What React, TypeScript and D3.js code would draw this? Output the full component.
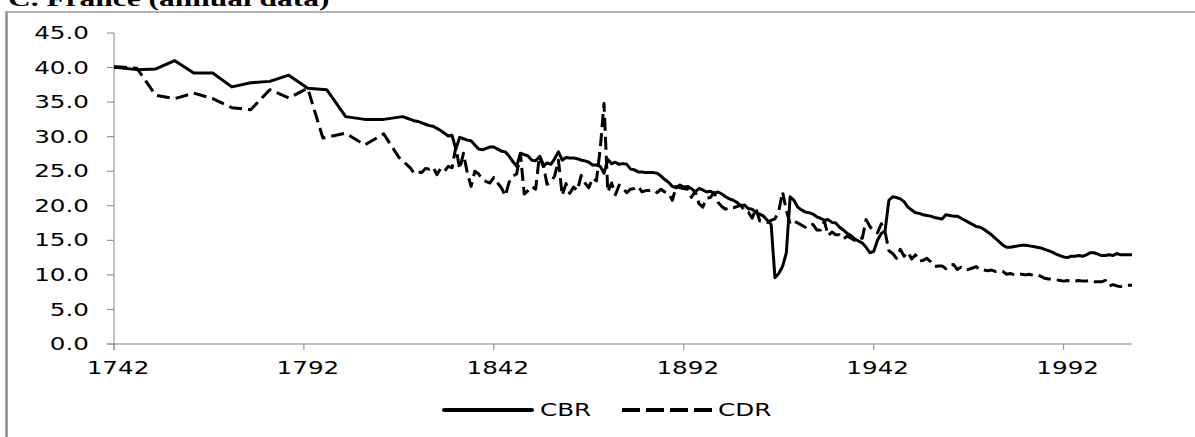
import * as d3 from "d3";

// crude birth rate, France (per 1000)
const cbrData: [number, number][] = [
  [1742, 40.0], [1743, 40.0], [1748, 39.7], [1753, 39.8], [1758, 41.0], [1763, 39.2], [1768, 39.2],
  [1773, 37.2], [1778, 37.8], [1783, 38.0], [1788, 38.9], [1793, 37.0], [1798, 36.8], [1803, 32.9],
  [1808, 32.5], [1813, 32.5], [1818, 32.9],
  [1819, 32.7], [1820, 32.5], [1821, 32.3], [1822, 32.2], [1823, 32.0], [1824, 31.8], [1825, 31.6],
  [1826, 31.5], [1827, 31.2], [1828, 30.9], [1829, 30.5], [1830, 30.1], [1831, 30.2], [1832, 28.2],
  [1833, 29.9], [1834, 29.7], [1835, 29.5], [1836, 29.4], [1837, 28.8], [1838, 28.2], [1839, 28.1],
  [1840, 28.3], [1841, 28.5], [1842, 28.5], [1843, 28.2], [1844, 27.9], [1845, 27.8], [1846, 27.2],
  [1847, 26.4], [1848, 25.7], [1849, 27.6], [1850, 27.4], [1851, 27.2], [1852, 26.6], [1853, 26.5],
  [1854, 27.1], [1855, 25.7], [1856, 26.2], [1857, 26.0], [1858, 26.8], [1859, 27.8], [1860, 26.6],
  [1861, 27.0], [1862, 26.9], [1863, 26.9], [1864, 26.8], [1865, 26.6], [1866, 26.5], [1867, 26.3],
  [1868, 25.9], [1869, 25.9], [1870, 25.7], [1871, 24.7], [1872, 26.7], [1873, 26.1], [1874, 26.3],
  [1875, 26.0], [1876, 26.1], [1877, 26.0], [1878, 25.3], [1879, 25.2], [1880, 24.9], [1881, 24.9],
  [1882, 24.8], [1883, 24.8], [1884, 24.8], [1885, 24.7], [1886, 24.3], [1887, 23.8], [1888, 23.4],
  [1889, 22.8], [1890, 22.6], [1891, 23.0], [1892, 22.7], [1893, 22.8], [1894, 22.5], [1895, 22.0],
  [1896, 22.5], [1897, 22.3], [1898, 22.0], [1899, 22.1], [1900, 21.8], [1901, 22.0], [1902, 21.7],
  [1903, 21.3], [1904, 21.0], [1905, 20.8], [1906, 20.5], [1907, 20.0], [1908, 20.1], [1909, 19.6],
  [1910, 19.5], [1911, 19.0], [1912, 18.8], [1913, 18.5], [1914, 17.9], [1915, 17.3], [1916, 9.6],
  [1917, 10.2], [1918, 11.2], [1919, 13.2], [1920, 21.3], [1921, 20.8], [1922, 19.8], [1923, 19.4],
  [1924, 19.1], [1925, 19.0], [1926, 18.8], [1927, 18.4], [1928, 18.2], [1929, 17.9], [1930, 18.0],
  [1931, 17.6], [1932, 17.5], [1933, 16.9], [1934, 16.5], [1935, 16.0], [1936, 15.7], [1937, 15.2],
  [1938, 14.9], [1939, 14.6], [1940, 14.0], [1941, 13.2], [1942, 13.4], [1943, 15.0], [1944, 16.0],
  [1945, 16.4], [1946, 20.8], [1947, 21.3], [1948, 21.2], [1949, 21.0], [1950, 20.6], [1951, 19.8],
  [1952, 19.4], [1953, 19.0], [1954, 18.9], [1955, 18.7], [1956, 18.6], [1957, 18.5], [1958, 18.3],
  [1959, 18.2], [1960, 18.1], [1961, 18.7], [1962, 18.6], [1963, 18.5], [1964, 18.5], [1965, 18.2],
  [1966, 17.9], [1967, 17.6], [1968, 17.3], [1969, 17.0], [1970, 16.9], [1971, 16.6], [1972, 16.2],
  [1973, 15.8], [1974, 15.3], [1975, 14.8], [1976, 14.3], [1977, 14.0], [1978, 14.0], [1979, 14.1],
  [1980, 14.2], [1981, 14.3], [1982, 14.3], [1983, 14.2], [1984, 14.1], [1985, 14.0], [1986, 13.9],
  [1987, 13.7], [1988, 13.5], [1989, 13.3], [1990, 13.0], [1991, 12.8], [1992, 12.6], [1993, 12.5],
  [1994, 12.7], [1995, 12.7], [1996, 12.8], [1997, 12.7], [1998, 12.9], [1999, 13.2], [2000, 13.2],
  [2001, 13.0], [2002, 12.8], [2003, 12.8], [2004, 12.9], [2005, 12.8], [2006, 13.1], [2007, 12.9],
  [2008, 12.9], [2009, 12.9], [2010, 12.9],
];

// crude death rate, France (per 1000)
const cdrData: [number, number][] = [
  [1742, 40.1], [1743, 40.1], [1748, 39.9], [1753, 36.0], [1758, 35.5], [1763, 36.3], [1768, 35.5],
  [1773, 34.2], [1778, 33.9], [1783, 36.8], [1788, 35.6], [1793, 37.0], [1797, 29.8], [1803, 30.5],
  [1808, 28.8], [1813, 30.4], [1817, 27.0],
  [1819, 26.0], [1820, 25.5], [1821, 24.7], [1822, 24.9], [1823, 24.8], [1824, 25.4], [1825, 25.3],
  [1826, 25.6], [1827, 24.5], [1828, 25.4], [1829, 25.0], [1830, 25.7], [1831, 25.5], [1832, 28.5],
  [1833, 25.3], [1834, 27.6], [1835, 24.8], [1836, 22.8], [1837, 25.0], [1838, 24.6], [1839, 23.8],
  [1840, 23.5], [1841, 23.3], [1842, 24.1], [1843, 23.3], [1844, 22.6], [1845, 21.4], [1846, 23.4],
  [1847, 24.3], [1848, 24.6], [1849, 27.5], [1850, 21.7], [1851, 22.2], [1852, 22.8], [1853, 22.4],
  [1854, 27.3], [1855, 26.0], [1856, 23.1], [1857, 23.4], [1858, 24.3], [1859, 26.6], [1860, 21.5],
  [1861, 23.2], [1862, 21.8], [1863, 22.7], [1864, 22.2], [1865, 24.4], [1866, 23.3], [1867, 22.6],
  [1868, 24.0], [1869, 23.6], [1870, 28.2], [1871, 34.8], [1872, 22.0], [1873, 23.3], [1874, 21.6],
  [1875, 23.0], [1876, 22.5], [1877, 21.9], [1878, 22.4], [1879, 22.5], [1880, 22.8], [1881, 22.0],
  [1882, 22.2], [1883, 22.2], [1884, 22.3], [1885, 21.9], [1886, 22.4], [1887, 22.0], [1888, 21.8],
  [1889, 20.8], [1890, 22.8], [1891, 22.6], [1892, 22.5], [1893, 22.4], [1894, 21.2], [1895, 22.1],
  [1896, 20.3], [1897, 19.8], [1898, 21.1], [1899, 21.2], [1900, 21.9], [1901, 20.5], [1902, 19.9],
  [1903, 19.5], [1904, 19.8], [1905, 19.7], [1906, 19.9], [1907, 20.1], [1908, 19.2], [1909, 19.1],
  [1910, 18.2], [1911, 19.6], [1912, 17.8], [1913, 17.8], [1914, 17.6], [1915, 17.9], [1916, 18.1],
  [1917, 19.2], [1918, 22.0], [1919, 19.3], [1920, 17.4], [1921, 17.8], [1922, 17.5], [1923, 17.2],
  [1924, 16.9], [1925, 17.4], [1926, 17.3], [1927, 16.5], [1928, 16.5], [1929, 17.8], [1930, 15.7],
  [1931, 16.2], [1932, 15.8], [1933, 15.8], [1934, 15.2], [1935, 15.6], [1936, 15.3], [1937, 15.0],
  [1938, 15.4], [1939, 15.3], [1940, 18.0], [1941, 17.0], [1942, 16.3], [1943, 16.1], [1944, 17.4],
  [1945, 16.2], [1946, 13.5], [1947, 13.1], [1948, 12.4], [1949, 13.7], [1950, 12.7], [1951, 13.3],
  [1952, 12.3], [1953, 12.9], [1954, 12.0], [1955, 12.1], [1956, 12.4], [1957, 11.9], [1958, 11.2],
  [1959, 11.3], [1960, 11.3], [1961, 10.9], [1962, 11.4], [1963, 11.5], [1964, 10.8], [1965, 11.1],
  [1966, 10.7], [1967, 10.8], [1968, 11.0], [1969, 11.2], [1970, 10.7], [1971, 10.7], [1972, 10.6],
  [1973, 10.7], [1974, 10.5], [1975, 10.6], [1976, 10.5], [1977, 10.1], [1978, 10.2], [1979, 10.0],
  [1980, 10.1], [1981, 10.1], [1982, 10.0], [1983, 10.1], [1984, 9.9], [1985, 10.0], [1986, 9.8],
  [1987, 9.5], [1988, 9.4], [1989, 9.4], [1990, 9.3], [1991, 9.2], [1992, 9.1], [1993, 9.2],
  [1994, 9.0], [1995, 9.1], [1996, 9.2], [1997, 9.1], [1998, 9.1], [1999, 9.2], [2000, 9.0],
  [2001, 9.0], [2002, 9.0], [2003, 9.2], [2004, 8.4], [2005, 8.6], [2006, 8.4], [2007, 8.3],
  [2008, 8.5], [2009, 8.5], [2010, 8.5],
];

const yTicks = [0, 5, 10, 15, 20, 25, 30, 35, 40, 45];
const xTicks = [1742, 1792, 1842, 1892, 1942, 1992];
const seriesNames = ["CBR", "CDR"];

const W = 1195;
const H = 437;
const FONT = "'DejaVu Sans', Verdana, sans-serif";
const SX = 1.45; // the picture is stretched sideways
const AXIS = "#868686";

export default function App() {
  const x = d3.scaleLinear().domain([1742, 2010]).range([114, 1132]);
  const y = d3.scaleLinear().domain([0, 45]).range([344, 33]);
  const line = d3
    .line<[number, number]>()
    .x((d) => x(d[0]))
    .y((d) => y(d[1]));

  const legendY = 410;

  return (
    <div style={{ position: "absolute", left: 0, top: 0 }}>
      <svg width={W} height={H} style={{ display: "block" }}>
        <rect width={W} height={H} fill="#fff" />

        {/* title, cut by the top of the image as in the source */}
        <text
          transform={`translate(8,6) scale(1.43,1)`}
          fontFamily="'Liberation Serif', 'Times New Roman', serif"
          fontWeight="bold"
          fontSize={22}
          fill="#000"
        >
          C. France (annual data)
        </text>

        {/* chart frame */}
        <line x1={6.5} x2={6.5} y1={11} y2={H} stroke="#8c8c8c" strokeWidth={2.5} />
        <line x1={6} x2={W} y1={12} y2={12} stroke="#9a9a9a" strokeWidth={1.5} />

        {/* y axis */}
        <line x1={x(1742)} x2={x(1742)} y1={y(45)} y2={y(0) + 6} stroke={AXIS} />
        {yTicks.map((t) => (
          <g key={t}>
            <line x1={x(1742) - 7} x2={x(1742)} y1={y(t)} y2={y(t)} stroke={AXIS} />
            <text
              transform={`translate(89,${y(t)}) scale(${SX},1)`}
              dy="0.36em"
              textAnchor="end"
              fontFamily={FONT}
              fontSize={17}
              fill="#000"
            >
              {t.toFixed(1)}
            </text>
          </g>
        ))}

        {/* x axis */}
        <line x1={x(1742) - 7} x2={x(2010)} y1={y(0)} y2={y(0)} stroke={AXIS} />
        {xTicks.map((t) => (
          <g key={t}>
            <line x1={x(t)} x2={x(t)} y1={y(0)} y2={y(0) + 6} stroke={AXIS} />
            <text
              transform={`translate(${x(t) + 4},374) scale(${SX},1)`}
              textAnchor="middle"
              fontFamily={FONT}
              fontSize={17}
              fill="#000"
            >
              {t}
            </text>
          </g>
        ))}

        {/* series */}
        <path d={line(cdrData) ?? ""} fill="none" stroke="#000" strokeWidth={3} strokeDasharray="13 6" strokeLinejoin="round" />
        <path d={line(cbrData) ?? ""} fill="none" stroke="#000" strokeWidth={3} strokeLinejoin="round" />

        {/* legend */}
        <line x1={444} x2={532} y1={legendY} y2={legendY} stroke="#000" strokeWidth={4} strokeLinecap="round" />
        <text transform={`translate(540,${legendY}) scale(${SX},1)`} dy="0.36em" fontFamily={FONT} fontSize={17} fill="#000">
          {seriesNames[0]}
        </text>
        <line x1={622} x2={712} y1={legendY} y2={legendY} stroke="#000" strokeWidth={4} strokeDasharray="18 6" />
        <text transform={`translate(718,${legendY}) scale(${SX},1)`} dy="0.36em" fontFamily={FONT} fontSize={17} fill="#000">
          {seriesNames[1]}
        </text>
      </svg>
    </div>
  );
}
